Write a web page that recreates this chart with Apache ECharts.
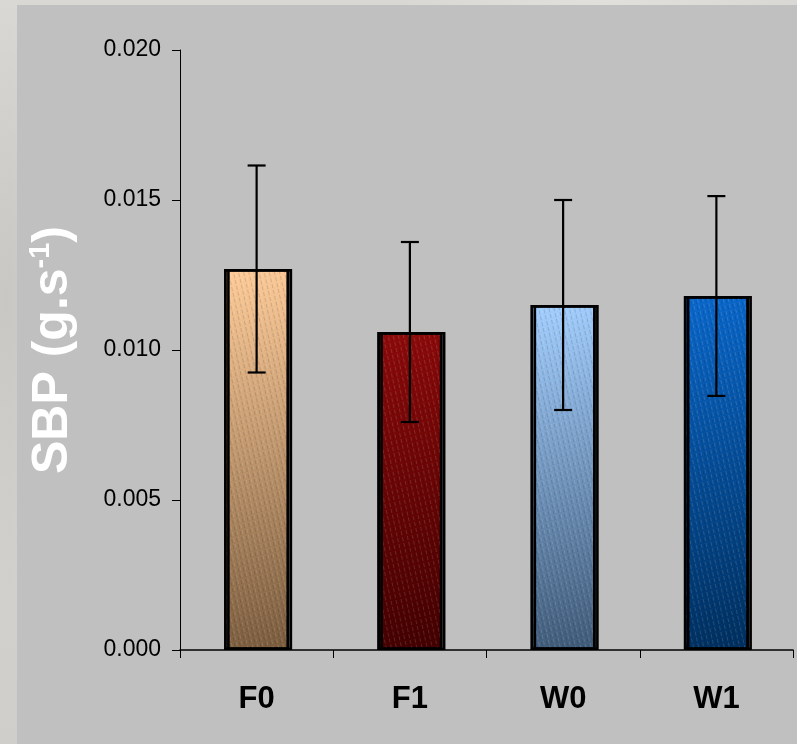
<!DOCTYPE html>
<html>
<head>
<meta charset="utf-8">
<script src="https://cdn.jsdelivr.net/npm/echarts@6/dist/echarts.min.js"></script>
<style>
  html, body { margin: 0; padding: 0; }
  body {
    width: 797px; height: 744px; overflow: hidden;
    background:
      radial-gradient(ellipse 60px 300px at 6px 300px, #c9c7c4 0%, rgba(201,199,196,0) 100%),
      radial-gradient(ellipse 200px 20px at 600px 2px, #e2e0dd 0%, rgba(226,224,221,0) 100%),
      linear-gradient(180deg, #dad8d5, #d0cecb);
  }
  #chart {
    position: absolute; left: 0; top: 0; width: 797px; height: 744px;
    background: linear-gradient(#c0c0c0, #c0c0c0) no-repeat 17px 5px / 780px 739px;
  }
</style>
</head>
<body>
<div id="chart"></div>
<script>
// Stroke volume / blood pressure measurements per group
const categories = ['F0', 'F1', 'W0', 'W1'];
const means = [0.0127, 0.0106, 0.0115, 0.0118];
const errors = [0.00345, 0.0030, 0.0035, 0.00333];
const yTicks = { min: 0, max: 0.020, interval: 0.005 };

// Bar fill gradients: light top-left to dark bottom-right
const barColors = [
  ['#ffcc99', '#7a5c3e'],
  ['#8e0a0a', '#420000'],
  ['#a3cfff', '#3f5a78'],
  ['#0a68cc', '#002f5e']
];

const FONT = '"Liberation Sans", Arial, sans-serif';

const chart = echarts.init(document.getElementById('chart'), null, { renderer: 'canvas' });

const barData = means.map((v, i) => ({
  value: v,
  itemStyle: {
    color: new echarts.graphic.LinearGradient(0, 0, 1, 1, [
      { offset: 0, color: barColors[i][0] },
      { offset: 1, color: barColors[i][1] }
    ]),
    decal: {
      symbol: 'rect',
      symbolSize: 1,
      color: 'rgba(255,255,255,0.13)',
      dashArrayX: [1, 4],
      dashArrayY: [4, 2],
      rotation: -0.22
    }
  }
}));

const errData = means.map((v, i) => [i, v - errors[i], v + errors[i]]);

chart.setOption({
  backgroundColor: 'transparent',
  animation: false,
  grid: { left: 180, right: 4, top: 50, bottom: 94 },
  xAxis: {
    type: 'category',
    data: categories,
    boundaryGap: true,
    axisLine: { lineStyle: { color: '#000', width: 1.5 } },
    axisTick: { show: true, length: 8, lineStyle: { color: '#000', width: 1 } },
    axisLabel: {
      color: '#000', fontFamily: FONT, fontWeight: 'bold', fontSize: 31, margin: 34
    },
    splitLine: { show: false }
  },
  yAxis: {
    type: 'value',
    min: yTicks.min,
    max: yTicks.max,
    interval: yTicks.interval,
    name: '{a|SBP (g.s}{sup|-1}{a|)}',
    nameLocation: 'middle',
    nameRotate: 90,
    nameGap: 99,
    nameTextStyle: {
      color: '#fff',
      fontFamily: FONT,
      fontWeight: 'bold',
      rich: {
        a: { fontSize: 50, fontFamily: FONT, fontWeight: 'bold', color: '#fff', lineHeight: 56 },
        sup: { fontSize: 29, fontFamily: FONT, fontWeight: 'bold', color: '#fff', lineHeight: 56, padding: [0, 0, 24, 0] }
      }
    },
    axisLine: { show: true, lineStyle: { color: '#000', width: 1 } },
    axisTick: { show: true, inside: false, length: 8, lineStyle: { color: '#000', width: 1 } },
    axisLabel: {
      color: '#000', fontFamily: FONT, fontSize: 23, margin: 19,
      formatter: v => v.toFixed(3)
    },
    splitLine: { show: false }
  },
  series: [
    {
      type: 'bar',
      data: barData,
      barWidth: 65,
      itemStyle: {
        borderColor: '#000',
        borderWidth: 2.5,
        shadowColor: 'rgba(0,0,0,0.35)',
        shadowOffsetX: 3,
        shadowOffsetY: 0,
        shadowBlur: 0
      },
      z: 2
    },
    {
      type: 'custom',
      data: errData,
      z: 5,
      renderItem: function (params, api) {
        const x = api.value(0);
        const lo = api.coord([x, api.value(1)]);
        const hi = api.coord([x, api.value(2)]);
        const cap = 9;
        const style = { stroke: '#000', lineWidth: 2.2 };
        return {
          type: 'group',
          children: [
            { type: 'line', shape: { x1: hi[0], y1: hi[1], x2: lo[0], y2: lo[1] }, style: style },
            { type: 'line', shape: { x1: hi[0] - cap, y1: hi[1], x2: hi[0] + cap, y2: hi[1] }, style: style },
            { type: 'line', shape: { x1: lo[0] - cap, y1: lo[1], x2: lo[0] + cap, y2: lo[1] }, style: style }
          ]
        };
      }
    }
  ]
});
</script>
</body>
</html>
